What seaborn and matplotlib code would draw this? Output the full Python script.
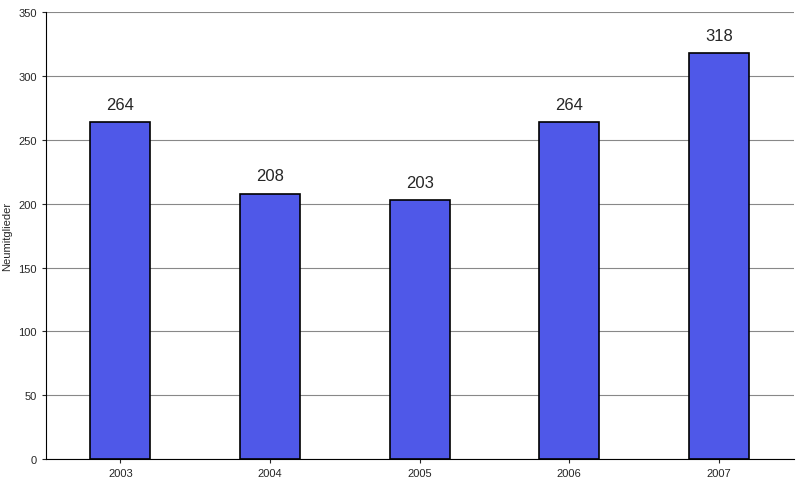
import matplotlib
matplotlib.use('Agg')
import matplotlib.pyplot as plt
import seaborn as sns

years = ['2003', '2004', '2005', '2006', '2007']
members = [264, 208, 203, 264, 318]

sns.set_style('white')
plt.rcParams['font.family'] = ['Liberation Sans', 'DejaVu Sans']

fig = plt.figure(figsize=(8, 4.89), dpi=100)
ax = fig.add_axes([0.057, 0.059, 0.935, 0.914])

sns.barplot(x=years, y=members, color='#4f58e8', edgecolor='black',
            linewidth=1.2, width=0.4, saturation=1, ax=ax)

for i, v in enumerate(members):
    ax.text(i, v + 8, str(v), ha='center', va='bottom', fontsize=12)

ax.set_ylim(0, 350)
ax.set_yticks(range(0, 351, 50))
ax.yaxis.grid(True, color='#888888', linewidth=0.8)
ax.set_axisbelow(True)
ax.set_ylabel('Neumitglieder', fontsize=8)
ax.tick_params(axis='both', labelsize=8, length=3, left=True, bottom=True)
for s in ['top', 'right']:
    ax.spines[s].set_visible(False)
for s in ['left', 'bottom']:
    ax.spines[s].set_color('black')

fig.savefig('out.png', dpi=100)
